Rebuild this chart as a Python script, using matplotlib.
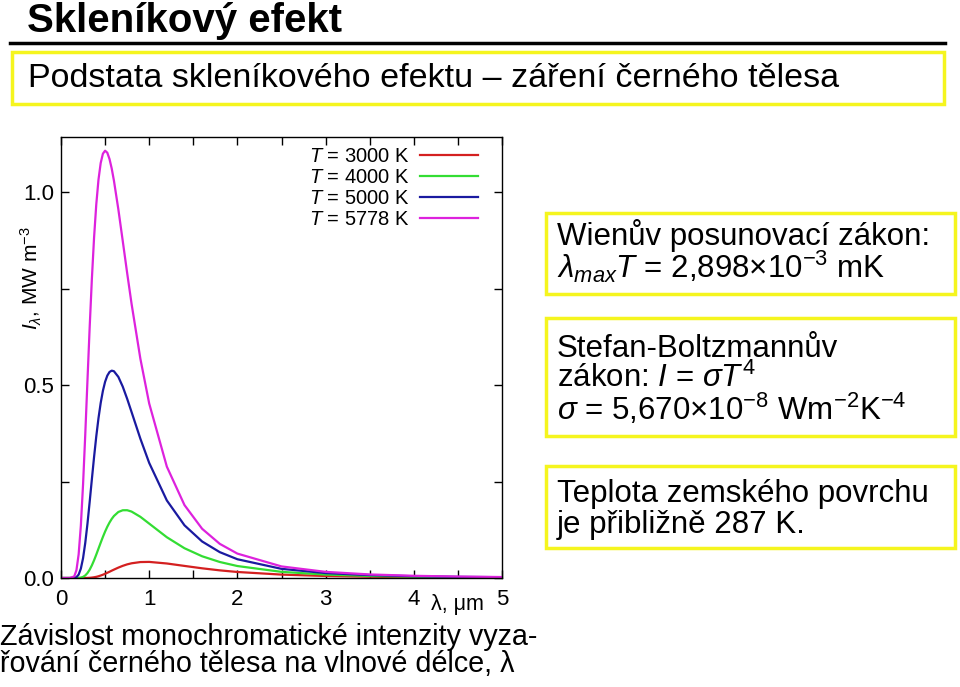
import matplotlib
matplotlib.use('Agg')
import matplotlib.pyplot as plt
from matplotlib.patches import Rectangle
from matplotlib.lines import Line2D

plt.rcParams['font.family'] = ['Liberation Sans', 'DejaVu Sans']
plt.rcParams['mathtext.fontset'] = 'custom'
plt.rcParams['mathtext.rm'] = 'Liberation Sans'
plt.rcParams['mathtext.it'] = 'Liberation Sans:italic'
plt.rcParams['mathtext.bf'] = 'Liberation Sans:bold'

# wavelength, um
wavelength = [0.0, 0.1, 0.15, 0.175, 0.2, 0.225, 0.25, 0.275, 0.3, 0.325, 0.35, 0.375,
              0.4, 0.425, 0.45, 0.475, 0.5, 0.525, 0.55, 0.575, 0.6, 0.65, 0.7, 0.75,
              0.8, 0.9, 1.0, 1.2, 1.4, 1.6, 1.8, 2.0, 2.5, 3.0, 3.5, 4.0, 4.5, 5.0]
# intensity, MW m^-3
i_3000 = [0.0, 0.0, 0.0, 0.0, 0.0, 0.0, 0.0, 0.0001, 0.0002, 0.0005, 0.0011, 0.0019,
          0.0030, 0.0045, 0.0064, 0.0085, 0.0109, 0.0135, 0.0162, 0.0190, 0.0217, 0.0269,
          0.0315, 0.0353, 0.0381, 0.0413, 0.0417, 0.0376, 0.0313, 0.0251, 0.0198, 0.0156,
          0.0088, 0.0052, 0.0032, 0.0021, 0.0014, 0.0010]
i_4000 = [0.0, 0.0, 0.0, 0.0, 0.0002, 0.0010, 0.0029, 0.0066, 0.0128, 0.0215, 0.0328,
          0.0460, 0.0607, 0.0761, 0.0915, 0.1064, 0.1203, 0.1328, 0.1437, 0.1530, 0.1606,
          0.1710, 0.1755, 0.1756, 0.1721, 0.1585, 0.1409, 0.1056, 0.0771, 0.0563, 0.0415,
          0.0310, 0.0159, 0.0089, 0.0053, 0.0034, 0.0022, 0.0015]
i_5000 = [0.0, 0.0, 0.0003, 0.0022, 0.0088, 0.0242, 0.0513, 0.0908, 0.1405, 0.1969,
          0.2559, 0.3136, 0.367, 0.414, 0.4534, 0.4848, 0.5083, 0.5243, 0.5337, 0.5372,
          0.5357, 0.5211, 0.4958, 0.4643, 0.430, 0.3608, 0.2981, 0.2009, 0.1365, 0.0946,
          0.0670, 0.0486, 0.0237, 0.0128, 0.0075, 0.0046, 0.0030, 0.0021]
i_5778 = [0.0, 0.0, 0.0041, 0.0202, 0.0612, 0.1354, 0.242, 0.3714, 0.5115, 0.6491,
          0.7747, 0.8822, 0.968, 1.032, 1.075, 1.0992, 1.107, 1.1018, 1.0854, 1.0608,
          1.0296, 0.9554, 0.8732, 0.7902, 0.7104, 0.568, 0.452, 0.2885, 0.1889, 0.1275,
          0.0885, 0.0632, 0.0300, 0.0159, 0.0092, 0.0057, 0.0037, 0.0025]

series = [i_3000, i_4000, i_5000, i_5778]
temps = ['3000', '4000', '5000', '5778']
colors = ['#d42020', '#33dd33', '#1a1aa0', '#dd22dd']

W, H = 960, 687
fig = plt.figure(figsize=(W / 100, H / 100), dpi=100)

def fx(px):
    return px / W

def fy(py):
    return 1 - py / H

# header
fig.text(fx(27), fy(32), 'Skleníkový efekt', fontsize=29, fontweight='bold',
         va='baseline', ha='left')
fig.add_artist(Line2D([fx(10), fx(945)], [fy(43), fy(43)], color='black', lw=2.5))

def ybox(x0, y0, x1, y1):
    fig.add_artist(Rectangle((fx(x0), fy(y1)), fx(x1 - x0), (y1 - y0) / H,
                             fill=False, edgecolor='#f5f51e', lw=2.5))

ybox(12, 52, 944, 104)
fig.text(fx(28), fy(87), 'Podstata skleníkového efektu – záření černého tělesa',
         fontsize=24.5, va='baseline', ha='left')

# right boxes
fs = 22.5
ybox(546, 213, 955, 294)
fig.text(fx(557), fy(245), 'Wienův posunovací zákon:', fontsize=fs, va='baseline')
fig.text(fx(557), fy(278), r'$\lambda_{max}T$ = 2,898$\times$10$^{-3}$ mK',
         fontsize=fs, va='baseline')

ybox(546, 318, 955, 436)
fig.text(fx(557), fy(357), 'Stefan-Boltzmannův', fontsize=fs, va='baseline')
fig.text(fx(557), fy(387), r'zákon: $I$ = $\sigma T^{4}$', fontsize=fs, va='baseline')
fig.text(fx(557), fy(420), r'$\sigma$ = 5,670$\times$10$^{-8}$ Wm$^{-2}$K$^{-4}$',
         fontsize=fs, va='baseline')

ybox(546, 466, 955, 548)
fig.text(fx(557), fy(502), 'Teplota zemského povrchu', fontsize=fs, va='baseline')
fig.text(fx(557), fy(533), 'je přibližně 287 K.', fontsize=fs, va='baseline')

# caption
fig.text(fx(0), fy(645), 'Závislost monochromatické intenzity vyza-', fontsize=20.7,
         va='baseline')
fig.text(fx(0), fy(672), 'řování černého tělesa na vlnové délce, λ', fontsize=20.7,
         va='baseline')

# plot
ax = fig.add_axes([fx(61), fy(578), fx(502 - 61), (578 - 137) / H])
for vals, t, c in zip(series, temps, colors):
    ax.plot(wavelength, vals, color=c, lw=1.6, label=r'$T$ = ' + t + ' K')

ax.set_xlim(0, 5)
ax.set_ylim(0, 1.1425)
ax.set_xticks([0, 1, 2, 3, 4, 5])
ax.set_xticks([0.5, 1.5, 2.5, 3.5, 4.5], minor=True)
ax.set_yticks([0.0, 0.5, 1.0])
ax.set_yticklabels(['0.0', '0.5', '1.0'])
ax.set_yticks([0.25, 0.75], minor=True)
ax.tick_params(which='both', direction='in', top=True, right=True, labelsize=16,
               width=1, length=6)
ax.tick_params(axis='x', pad=8)
ax.tick_params(axis='y', pad=5)
for s in ax.spines.values():
    s.set_linewidth(1)

ax.text(4.49, -0.042, 'λ, μm', fontsize=15.5, ha='center', va='top')
ax.text(-0.068, 0.68, r'$I_{\lambda}$, MW m$^{-3}$', transform=ax.transAxes,
        rotation=90, fontsize=15, ha='center', va='center')

leg = ax.legend(loc='upper right', frameon=False, fontsize=14.5, markerfirst=False,
                handlelength=2.9, handletextpad=0.5, labelspacing=0.1,
                borderaxespad=0.0, bbox_to_anchor=(0.964, 0.995))

fig.savefig('out.png', dpi=100)
